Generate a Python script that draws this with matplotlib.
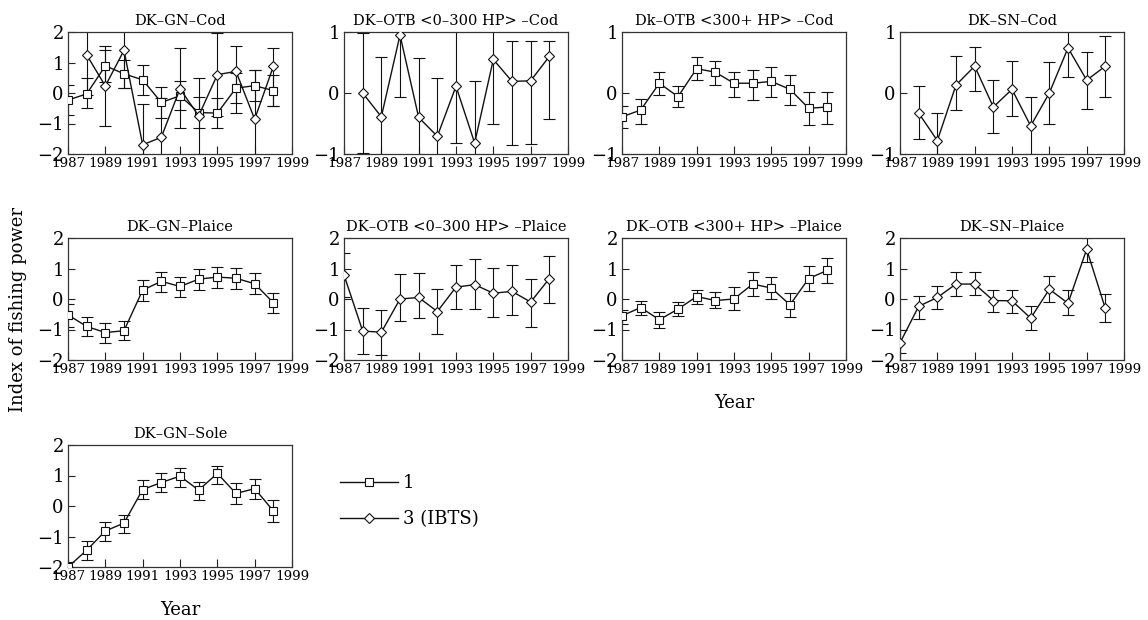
import matplotlib
matplotlib.use("Agg")
import matplotlib.pyplot as plt
from matplotlib.lines import Line2D

# ---------------- data ----------------
years_full = [1987, 1988, 1989, 1990, 1991, 1992, 1993, 1994, 1995, 1996, 1997, 1998]
years_short = [1988, 1989, 1990, 1991, 1992, 1993, 1994, 1995, 1996, 1997, 1998]
xticks = [1987, 1989, 1991, 1993, 1995, 1997, 1999]
legend_labels = ["1", "3 (IBTS)"]

titles = ["DK–GN–Cod", "DK–OTB <0–300 HP> –Cod", "Dk–OTB <300+ HP> –Cod", "DK–SN–Cod",
          "DK–GN–Plaice", "DK–OTB <0–300 HP> –Plaice", "DK–OTB <300+ HP> –Plaice", "DK–SN–Plaice",
          "DK–GN–Sole"]

# DK-GN-Cod, series 1 (squares)
gn_cod_1 = [-0.23, -0.03, 0.89, 0.63, 0.43, -0.31, -0.09, -0.64, -0.66, 0.16, 0.24, 0.08]
gn_cod_1_lo = [-0.72, -0.50, 0.35, 0.16, -0.07, -0.81, -0.56, -1.14, -1.16, -0.34, -0.26, -0.42]
gn_cod_1_hi = [0.27, 0.49, 1.41, 1.09, 0.93, 0.19, 0.38, -0.14, -0.16, 0.66, 0.74, 0.58]
# DK-GN-Cod, series 3 (diamonds)
gn_cod_3 = [1.25, 0.23, 1.40, -1.70, -1.45, 0.14, -0.75, 0.60, 0.71, -0.86, 0.87]
gn_cod_3_lo = [-0.05, -1.07, 0.16, -3.00, -2.75, -1.16, -2.00, -0.77, -0.64, -2.50, -0.42]
gn_cod_3_hi = [2.50, 1.53, 2.60, -0.36, -0.15, 1.47, 0.50, 1.97, 1.53, 0.76, 1.47]

# DK-OTB <0-300 HP> -Cod (diamonds)
otb1_cod = [0.00, -0.39, 0.95, -0.40, -0.71, 0.11, -0.82, 0.55, 0.19, 0.20, 0.60]
otb1_cod_lo = [-0.98, -1.37, -0.07, -1.37, -1.67, -0.82, -1.84, -0.50, -0.85, -0.84, -0.42]
otb1_cod_hi = [0.98, 0.59, 1.97, 0.57, 0.25, 1.09, 0.20, 1.60, 0.85, 0.85, 0.85]

# Dk-OTB <300+ HP> -Cod (squares)
otb2_cod = [-0.39, -0.28, 0.16, -0.06, 0.40, 0.34, 0.16, 0.16, 0.19, 0.06, -0.25, -0.23]
otb2_cod_lo = [-0.58, -0.50, -0.04, -0.23, 0.22, 0.13, -0.07, -0.11, -0.07, -0.19, -0.52, -0.50]
otb2_cod_hi = [-0.22, -0.10, 0.34, 0.12, 0.59, 0.53, 0.35, 0.37, 0.42, 0.30, 0.01, 0.01]

# DK-SN-Cod (diamonds)
sn_cod = [-0.33, -0.78, 0.13, 0.44, -0.23, 0.06, -0.54, 0.00, 0.74, 0.21, 0.44]
sn_cod_lo = [-0.75, -1.05, -0.28, 0.04, -0.66, -0.38, -1.00, -0.50, 0.27, -0.26, -0.07]
sn_cod_hi = [0.12, -0.32, 0.61, 0.75, 0.21, 0.52, -0.07, 0.51, 1.07, 0.68, 0.94]

# DK-GN-Plaice (squares)
gn_plaice = [-0.52, -0.90, -1.10, -1.04, 0.29, 0.58, 0.41, 0.65, 0.72, 0.68, 0.50, -0.12]
gn_plaice_lo = [-0.92, -1.21, -1.45, -1.36, -0.06, 0.22, 0.05, 0.28, 0.36, 0.32, 0.16, -0.47]
gn_plaice_hi = [-0.15, -0.58, -0.79, -0.71, 0.63, 0.90, 0.72, 0.99, 1.05, 1.01, 0.85, 0.21]

# DK-OTB <0-300 HP> -Plaice (diamonds)
otb1_plaice = [0.79, -1.05, -1.09, 0.00, 0.05, -0.41, 0.39, 0.47, 0.19, 0.25, -0.10, 0.67]
otb1_plaice_lo = [0.07, -1.81, -1.84, -0.72, -0.63, -1.14, -0.34, -0.32, -0.60, -0.54, -0.93, -0.14]
otb1_plaice_hi = [1.51, -0.28, -0.36, 0.83, 0.85, 0.32, 1.10, 1.31, 1.03, 1.10, 0.66, 1.42]

# DK-OTB <300+ HP> -Plaice (squares)
otb2_plaice = [-0.55, -0.28, -0.68, -0.33, 0.08, -0.05, 0.00, 0.49, 0.36, -0.19, 0.67, 0.94]
otb2_plaice_lo = [-0.82, -0.54, -0.94, -0.55, -0.17, -0.30, -0.36, 0.10, -0.01, -0.58, 0.25, 0.54]
otb2_plaice_hi = [-0.36, -0.05, -0.43, -0.10, 0.30, 0.22, 0.39, 0.87, 0.71, 0.19, 1.07, 1.36]

# DK-SN-Plaice (diamonds)
sn_plaice = [-1.44, -0.24, 0.05, 0.49, 0.49, -0.05, -0.06, -0.63, 0.32, -0.14, 1.63, -0.31]
sn_plaice_lo = [-1.78, -0.66, -0.34, 0.11, 0.14, -0.42, -0.47, -1.01, -0.11, -0.52, 1.22, -0.76]
sn_plaice_hi = [-1.01, 0.11, 0.41, 0.89, 0.89, 0.30, 0.28, -0.23, 0.76, 0.28, 2.00, 0.17]

# DK-GN-Sole (squares)
gn_sole = [-2.00, -1.45, -0.82, -0.56, 0.54, 0.77, 0.98, 0.52, 1.07, 0.41, 0.57, -0.16]
gn_sole_lo = [-2.30, -1.77, -1.15, -0.89, 0.22, 0.46, 0.63, 0.19, 0.71, 0.08, 0.24, -0.51]
gn_sole_hi = [-1.84, -1.16, -0.53, -0.29, 0.85, 1.07, 1.23, 0.79, 1.32, 0.74, 0.87, 0.19]

# ---------------- figure ----------------
plt.rcParams['font.family'] = ['DejaVu Serif']

W, H = 1148, 620
fig = plt.figure(figsize=(W / 100, H / 100), dpi=100)

col_left = [68, 344, 622, 900]
row_top = [32, 238, 445]
ax_w, ax_h = 224, 122


def make_ax(r, c):
    l = col_left[c] / W
    b = (H - row_top[r] - ax_h) / H
    return fig.add_axes([l, b, ax_w / W, ax_h / H])


def style(ax, title, ylim, yticks):
    ax.set_xlim(1987, 1999)
    ax.set_ylim(*ylim)
    ax.set_xticks(xticks)
    ax.set_xticklabels([str(t) for t in xticks], fontsize=9.6)
    ax.set_yticks(yticks)
    ax.set_yticklabels([str(t).replace('-', '\u2212') for t in yticks], fontsize=13)
    ax.tick_params(axis='x', direction='in', length=6, width=0.8, pad=2, color='#222222')
    ax.tick_params(axis='y', direction='in', length=5, width=0.8, pad=3, color='#222222')
    for s in ax.spines.values():
        s.set_linewidth(0.9)
        s.set_color('#333333')
    ax.set_title(title, fontsize=10.5, pad=5)


def draw(ax, x, v, lo, hi, marker, ms):
    yerr = [[vi - l for vi, l in zip(v, lo)], [h - vi for vi, h in zip(v, hi)]]
    ax.errorbar(x, v, yerr=yerr, fmt='none', ecolor='#111111', elinewidth=0.8,
                capsize=4, capthick=0.8, zorder=2)
    ax.plot(x, v, color='#111111', lw=1.0, marker=marker, ms=ms, mfc='white',
            mec='#111111', mew=0.8, zorder=3)


SQ = ('s', 6)
DI = ('D', 5.5)

panels = [
    (0, 0, titles[0], (-2, 2), [-2, -1, 0, 1, 2],
     [(years_full, gn_cod_1, gn_cod_1_lo, gn_cod_1_hi, SQ),
      (years_short, gn_cod_3, gn_cod_3_lo, gn_cod_3_hi, DI)]),
    (0, 1, titles[1], (-1, 1), [-1, 0, 1],
     [(years_short, otb1_cod, otb1_cod_lo, otb1_cod_hi, DI)]),
    (0, 2, titles[2], (-1, 1), [-1, 0, 1],
     [(years_full, otb2_cod, otb2_cod_lo, otb2_cod_hi, SQ)]),
    (0, 3, titles[3], (-1, 1), [-1, 0, 1],
     [(years_short, sn_cod, sn_cod_lo, sn_cod_hi, DI)]),
    (1, 0, titles[4], (-2, 2), [-2, -1, 0, 1, 2],
     [(years_full, gn_plaice, gn_plaice_lo, gn_plaice_hi, SQ)]),
    (1, 1, titles[5], (-2, 2), [-2, -1, 0, 1, 2],
     [(years_full, otb1_plaice, otb1_plaice_lo, otb1_plaice_hi, DI)]),
    (1, 2, titles[6], (-2, 2), [-2, -1, 0, 1, 2],
     [(years_full, otb2_plaice, otb2_plaice_lo, otb2_plaice_hi, SQ)]),
    (1, 3, titles[7], (-2, 2), [-2, -1, 0, 1, 2],
     [(years_full, sn_plaice, sn_plaice_lo, sn_plaice_hi, DI)]),
    (2, 0, titles[8], (-2, 2), [-2, -1, 0, 1, 2],
     [(years_full, gn_sole, gn_sole_lo, gn_sole_hi, SQ)]),
]

axes = {}
for r, c, title, ylim, yt, series in panels:
    ax = make_ax(r, c)
    style(ax, title, ylim, yt)
    for x, v, lo, hi, (m, ms) in series:
        draw(ax, x, v, lo, hi, m, ms)
    axes[(r, c)] = ax

axes[(1, 2)].set_xlabel("Year", fontsize=13, labelpad=13)
axes[(2, 0)].set_xlabel("Year", fontsize=13, labelpad=13)

fig.text(18 / W, 1 - 310 / H, "Index of fishing power", rotation=90,
         fontsize=13, ha='center', va='center')

handles = [Line2D([], [], color='#111111', lw=1.0, marker='s', ms=6, mfc='white', mec='#111111', mew=0.8),
           Line2D([], [], color='#111111', lw=1.0, marker='D', ms=5.5, mfc='white', mec='#111111', mew=0.8)]
fig.legend(handles, legend_labels, loc='upper left', bbox_to_anchor=(340 / W, 1 - 474 / H),
           frameon=False, fontsize=13, handlelength=3.2, handletextpad=0.3,
           labelspacing=1.0, borderpad=0, borderaxespad=0)

fig.savefig("out.png", dpi=100)
